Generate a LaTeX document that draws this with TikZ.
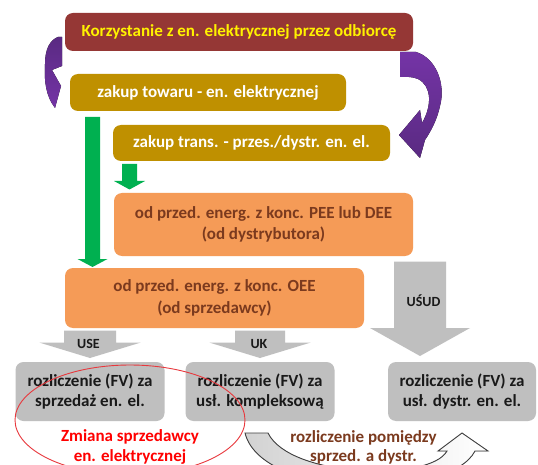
\documentclass[tikz,border=0pt]{standalone}
\usepackage{fontspec}
\setmainfont{Carlito}
\definecolor{cRed}{HTML}{953735}
\definecolor{cGold}{HTML}{BF9000}
\definecolor{cOrange}{HTML}{F59B57}
\definecolor{cGray}{HTML}{BFBFBF}
\definecolor{cGreen}{HTML}{00B050}
\definecolor{cBrown}{HTML}{7B3A1E}
\definecolor{cPurpleA}{HTML}{5A2A82}
\definecolor{cPurpleB}{HTML}{7434A6}
\definecolor{cEll}{HTML}{E8383D}
\definecolor{cOutline}{HTML}{404040}
\tikzset{
  box/.style={rounded corners=8pt, inner sep=0pt, align=center, font=\bfseries\fontsize{17}{21.5}\selectfont},
  redbox/.style={box, fill=cRed, text=yellow},
  goldbox/.style={box, fill=cGold, text=white},
  orangebox/.style={box, fill=cOrange, text=cBrown},
  graybox/.style={box, fill=cGray, text=black!90, font=\bfseries\fontsize{17}{20.5}\selectfont},
  lbl/.style={inner sep=0pt, font=\bfseries\fontsize{14}{16}\selectfont, text=black!90},
}
% block arrow: #1 x-centre, #2 top, #3 head base, #4 tip, #5 half shaft, #6 half head
\newcommand{\myblockarrow}[7]{%
  \fill[#7] (#1-#5,#2) -- (#1+#5,#2) -- (#1+#5,#3) -- (#1+#6,#3) -- (#1,#4)
    -- (#1-#6,#3) -- (#1-#5,#3) -- cycle;}
\begin{document}
\begin{tikzpicture}[x=1pt,y=-1pt]
\useasboundingbox[fill=white] (0,0) rectangle (538,465);

% boxes
\node[redbox, minimum width=348pt, minimum height=38pt] (b1) at (239,32) {Korzystanie z en. elektrycznej przez odbiorcę};
\node[goldbox, minimum width=276pt, minimum height=37pt] (b2) at (208,92.5) {zakup towaru - en. elektrycznej};
\node[goldbox, minimum width=277pt, minimum height=36pt] (b3) at (251.5,143) {zakup trans. - przes./dystr. en. el.};
\node[orangebox, minimum width=299pt, minimum height=63pt] (b4) at (263.5,224.5) {od przed. energ. z konc. PEE lub DEE\\(od dystrybutora)};
\node[orangebox, minimum width=299pt, minimum height=60pt] (b5) at (214.5,298) {od przed. energ. z konc. OEE\\(od sprzedawcy)};
\node[graybox, minimum width=149pt, minimum height=59pt] (b6) at (90,391.5) {rozliczenie (FV) za\\sprzedaż en. el.};
\node[graybox, minimum width=149pt, minimum height=59pt] (b7) at (260,391.5) {rozliczenie (FV) za\\usł. kompleksową};
\node[graybox, minimum width=148pt, minimum height=59pt] (b8) at (462,391.5) {rozliczenie (FV) za\\usł. dystr. en. el.};

% green arrows
\myblockarrow{92.5}{117}{259}{267}{7.5}{15}{cGreen}
\myblockarrow{129.5}{164}{181}{189.5}{7.5}{15.5}{cGreen}

% gray arrows
\myblockarrow{90}{330.6}{342.6}{358}{26}{50.5}{cGray}
\myblockarrow{260}{330.6}{342.6}{358}{25}{50.5}{cGray}
\myblockarrow{420}{261.5}{328}{356}{26}{50}{cGray}
\node[lbl] (lUSE) at (88.5,344) {USE};
\node[lbl] (lUK) at (259,344) {UK};
\node[lbl] (lUSUD) at (423.5,301) {UŚUD};

% purple curved arrows
\fill[top color=cPurpleA, bottom color=cPurpleB]
  (62,37) -- (62,66) -- (52,70) -- (61,86) -- (55,108)
  .. controls (46,96) and (44,82) .. (45,64)
  .. controls (45,49) and (50,40) .. (58,37) -- cycle;
\fill[top color=cPurpleB, bottom color=cPurpleA]
  (400,52) -- (416,52)
  .. controls (436,58) and (446,84) .. (440,106)
  .. controls (437,120) and (431,131) .. (425,140)
  -- (420,158) -- (399,135) -- (420,110) -- (422,123)
  .. controls (432,106) and (432,86) .. (418,79)
  .. controls (410,76) and (405,77) .. (400,77) -- cycle;

% red ellipse and its text
\draw[cEll, line width=0.9pt] (130,420) ellipse[x radius=115, y radius=55];
\node[inner sep=0pt, align=center, text=red, font=\bfseries\fontsize{17}{20}\selectfont] (zm) at (130,447) {Zmiana sprzedawcy\\en. elektrycznej};

% bottom curved arrow
\filldraw[draw=cOutline, line width=0.9pt, left color=gray!35, right color=white]
  (245,433) -- (268,433)
  .. controls (290,478) and (430,482) .. (447,451)
  -- (438,451) -- (462,433) -- (488,451) -- (475,451)
  .. controls (450,500) and (262,500) .. (245,433) -- cycle;
\node[inner sep=0pt, align=center, text=cBrown, font=\bfseries\fontsize{17}{19}\selectfont] (rp) at (363.5,447.5) {rozliczenie pomiędzy\\sprzed. a dystr.};
\end{tikzpicture}
\end{document}
